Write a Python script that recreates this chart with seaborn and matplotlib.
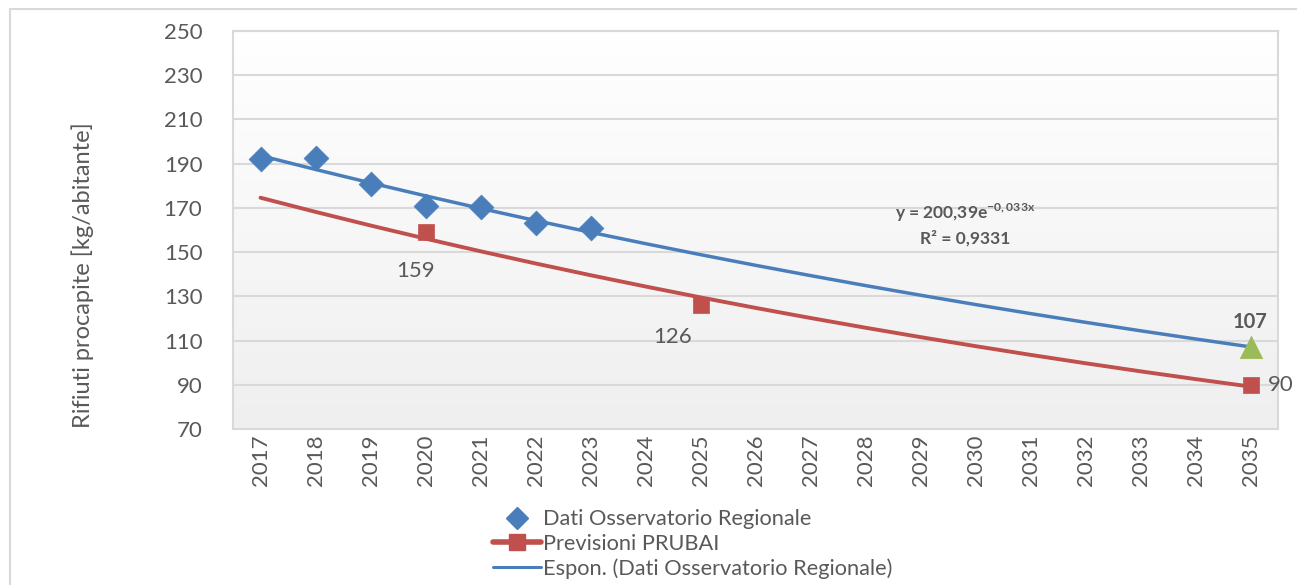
import numpy as np
import pandas as pd
import matplotlib
matplotlib.use("Agg")
import matplotlib.pyplot as plt
from matplotlib.lines import Line2D
from matplotlib.patches import Rectangle
from matplotlib.colors import LinearSegmentedColormap
import seaborn as sns

# ---- data ----
years = list(range(2017, 2036))
obs_years = [2017, 2018, 2019, 2020, 2021, 2022, 2023]
obs_values = [192, 192.5, 181, 171, 170.5, 163, 161]
prev_years = [2020, 2025, 2035]
prev_values = [159, 126, 90]
target_year = [2035]
target_value = [107]
y_ticks = list(range(70, 251, 20))

sns.set_theme(style="white")
plt.rcParams["font.family"] = ["Lato", "DejaVu Sans"]

TXT = "#595959"
BLUE = "#4a7ebb"
RED = "#c0504d"
GREEN = "#9bbb59"
GRID = "#d9d9d9"

fig = plt.figure(figsize=(12.97, 5.85), dpi=100)
ax = fig.add_axes([233/1297, 1 - 429/585, (1278-233)/1297, (429-31)/585])

# outer chart border
fig.patches.append(Rectangle((10/1297, -0.05), 1.1, 1 - 9/585 + 0.05, transform=fig.transFigure,
                             fill=False, edgecolor="#d9d9d9", lw=1.5, zorder=0))

# exponential trend (Excel-style: x = 1..n over categories)
obs_idx = np.array([years.index(y) + 1 for y in obs_years])
b, ln_a = np.polyfit(obs_idx, np.log(obs_values), 1)
all_idx = np.arange(1, len(years) + 1)
trend_obs = pd.DataFrame({"year": years, "val": np.exp(ln_a) * np.exp(b * all_idx)})

prev_idx = np.array([years.index(y) + 1 for y in prev_years])
b2, ln_a2 = np.polyfit(prev_idx, np.log(prev_values), 1)
trend_prev = pd.DataFrame({"year": years, "val": np.exp(ln_a2) * np.exp(b2 * all_idx)})

# background gradient
grad = np.linspace(0, 1, 256).reshape(-1, 1)
cmap = LinearSegmentedColormap.from_list("bg", ["#ffffff", "#efefef"])
ax.imshow(grad, cmap=cmap, aspect="auto", extent=[2016.5, 2035.5, 70, 250], origin="upper", zorder=0)

sns.lineplot(data=trend_prev, x="year", y="val", color=RED, lw=2.8, ax=ax, zorder=3)
sns.lineplot(data=trend_obs, x="year", y="val", color=BLUE, lw=2.5, ax=ax, zorder=3)

sns.scatterplot(x=obs_years, y=obs_values, marker="D", s=160, color=BLUE, edgecolor=BLUE,
                linewidth=0.5, ax=ax, zorder=4)
sns.scatterplot(x=prev_years, y=prev_values, marker="s", s=120, color=RED, edgecolor=RED,
                linewidth=0.5, ax=ax, zorder=4)
sns.scatterplot(x=target_year, y=target_value, marker="^", s=260, color=GREEN, edgecolor=GREEN,
                linewidth=0.5, ax=ax, zorder=5)

# labels
ax.annotate(f"{prev_values[0]}", (prev_years[0], prev_values[0]), xytext=(-7, -28),
            textcoords="offset points", ha="center", va="center", fontsize=16, color=TXT)
ax.annotate(f"{prev_values[1]}", (prev_years[1], prev_values[1]), xytext=(-20, -23),
            textcoords="offset points", ha="center", va="center", fontsize=16, color=TXT)
ax.annotate(f"{prev_values[2]}", (prev_years[2], prev_values[2]), xytext=(22, 0),
            textcoords="offset points", ha="center", va="center", fontsize=16, color=TXT)
ax.annotate(f"{target_value[0]}", (target_year[0], target_value[0]), xytext=(0, 18),
            textcoords="offset points", ha="center", va="center", fontsize=14.5,
            fontweight="bold", color=TXT)

ax.text(965/1297, 1 - 213/585, "y = 200,39e$^{\\mathregular{-0,033x}}$", transform=fig.transFigure,
        ha="center", va="center", fontsize=12.5, fontweight="bold", color=TXT)
ax.text(965/1297, 1 - 238/585, "R² = 0,9331", transform=fig.transFigure,
        ha="center", va="center", fontsize=12.5, fontweight="bold", color=TXT)

# axes
ax.set_xlim(2016.5, 2035.5)
ax.set_ylim(70, 250)
ax.set_xticks(years)
ax.set_xticklabels([str(y) for y in years], rotation=90)
ax.set_yticks(y_ticks)
ax.tick_params(axis="both", length=0, labelsize=16, colors=TXT)
ax.tick_params(axis="y", pad=22)
ax.tick_params(axis="x", pad=4)
ax.grid(axis="y", color=GRID, lw=1.5)
ax.set_axisbelow(True)
for s in ax.spines.values():
    s.set_color(GRID)
    s.set_linewidth(1.5)
ax.set_xlabel("")
ax.set_ylabel("")
fig.text(83/1297, 1 - 275/585, "Rifiuti procapite [kg/abitante]", rotation=90,
         ha="center", va="center", fontsize=17, color=TXT)

handles = [
    Line2D([], [], marker="D", color=BLUE, linestyle="none", markersize=11.5),
    Line2D([], [], marker="s", color=RED, lw=4, markersize=11),
    Line2D([], [], color=BLUE, lw=2.2),
]
labels = ["Dati Osservatorio Regionale", "Previsioni PRUBAI",
          "Espon. (Dati Osservatorio Regionale)"]
fig.legend(handles, labels, loc="center left", bbox_to_anchor=(493/1297, 1 - 544/585),
           frameon=False, fontsize=15.7, labelcolor=TXT, handlelength=2.2,
           handletextpad=0.1, labelspacing=0.2, borderpad=0, borderaxespad=0)

fig.savefig("out.png", dpi=100)
